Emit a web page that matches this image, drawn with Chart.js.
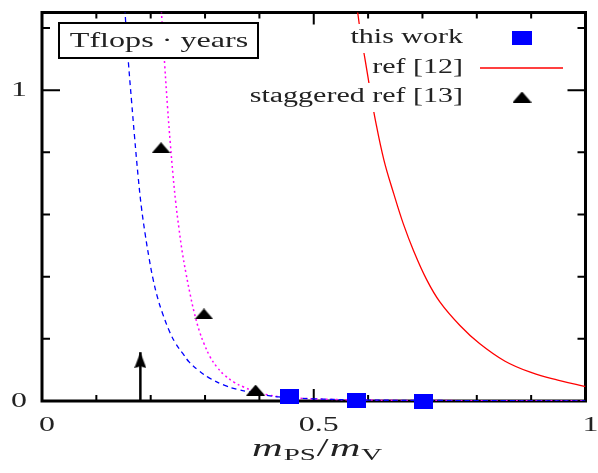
<!DOCTYPE html>
<html>
<head>
<meta charset="utf-8">
<script src="https://cdn.jsdelivr.net/npm/chart.js@4.4.1/dist/chart.umd.min.js"></script>
<style>
  html, body { margin: 0; padding: 0; background: #fff; }
  #wrap { width: 598px; height: 473px; }
  #precarga { font-family: "Liberation Serif"; position: absolute; left: -999px; }
</style>
</head>
<body>
<span id="precarga">Tflops <i>m</i></span>
<div id="wrap"><canvas id="grafica" width="598" height="473"></canvas></div>
<script>
// datos
const estaObraX = [0.455, 0.579, 0.702];
const estaObraY = [0.013, 0.002, 0.0];

const escalonadoX = [0.219, 0.298, 0.393];
const escalonadoY = [0.815, 0.28, 0.035];

const ref12X = [0.579, 0.586, 0.595, 0.604, 0.613, 0.629, 0.647, 0.665, 0.684, 0.707, 0.732, 0.769, 0.805, 0.852, 0.901, 0.949, 0.996, 1.0];
const ref12Y = [1.275, 1.185, 1.093, 0.997, 0.907, 0.776, 0.668, 0.569, 0.482, 0.393, 0.319, 0.243, 0.185, 0.128, 0.091, 0.067, 0.048, 0.047];

const azulX = [0.150, 0.154, 0.159, 0.165, 0.170, 0.177, 0.183, 0.190, 0.197, 0.204, 0.213, 0.222, 0.235, 0.246, 0.259, 0.271, 0.289, 0.309, 0.335, 0.358, 0.382, 0.412, 0.436, 0.5, 0.6, 0.7, 0.8, 1.0];
const azulY = [1.35, 1.217, 1.089, 0.960, 0.856, 0.720, 0.622, 0.535, 0.460, 0.395, 0.330, 0.281, 0.222, 0.185, 0.153, 0.125, 0.097, 0.073, 0.051, 0.038, 0.029, 0.019, 0.013, 0.007, 0.003, 0.002, 0.001, 0.0005];

const magentaX = [0.216, 0.221, 0.226, 0.231, 0.236, 0.241, 0.246, 0.252, 0.258, 0.265, 0.273, 0.280, 0.289, 0.298, 0.309, 0.322, 0.336, 0.353, 0.371, 0.394, 0.418, 0.448, 0.5, 0.6, 0.8, 1.0];
const magentaY = [1.35, 1.217, 1.075, 0.945, 0.830, 0.728, 0.640, 0.555, 0.480, 0.410, 0.340, 0.285, 0.228, 0.185, 0.143, 0.109, 0.083, 0.061, 0.045, 0.029, 0.019, 0.012, 0.007, 0.003, 0.001, 0.0005];

const flechaX = [0.181, 0.181];
const flechaY = [0, 0.157];

const xTicks = [0.1, 0.2, 0.3, 0.4, 0.5, 0.6, 0.7, 0.8, 0.9];
const yTicks = [0.2, 0.4, 0.6, 0.8, 1.0, 1.2];
const xEtiquetas = [0, 0.5, 1];
const yEtiquetas = [0, 1];
const leyenda = ['this work', 'ref [12]', 'staggered ref [13]'];

const FUENTE = '"Liberation Serif", "DejaVu Serif", serif';

function puntos(xs, ys) {
    return xs.map((x, i) => ({ x: x, y: ys[i] }));
}

function crearCanvas(w, h, dibujar) {
    const c = document.createElement('canvas');
    c.width = w; c.height = h;
    dibujar(c.getContext('2d'));
    return c;
}

const cuadro = crearCanvas(19, 15, g => { g.fillStyle = '#0000ff'; g.fillRect(0, 0, 19, 15); });
const triangulo = crearCanvas(19, 11, g => {
    g.fillStyle = '#000';
    g.beginPath(); g.moveTo(9.5, 0); g.lineTo(19, 11); g.lineTo(0, 11); g.closePath(); g.fill();
});
// punta de flecha en la mitad inferior para que el centro quede en la punta
const punta = crearCanvas(12, 32, g => {
    g.fillStyle = '#000';
    g.beginPath(); g.moveTo(6, 16); g.lineTo(12, 32); g.lineTo(6, 30); g.lineTo(0, 32); g.closePath(); g.fill();
});

function texto(ctx, str, x, y, font, align, base, sx) {
    sx = sx || 1.45;
    ctx.save();
    ctx.font = font;
    ctx.textBaseline = base || 'middle';
    ctx.textAlign = 'left';
    const w = ctx.measureText(str).width * sx;
    const left = align === 'right' ? x - w : align === 'center' ? x - w / 2 : x;
    ctx.translate(left, y);
    ctx.scale(sx, 1);
    ctx.fillText(str, 0, 0);
    ctx.restore();
    return w;
}

const marco = {
    id: 'marco',
    beforeDatasetsDraw(chart) {
        const { ctx, chartArea: a, scales: { x, y } } = chart;
        ctx.save();
        ctx.strokeStyle = '#000';
        ctx.lineWidth = 2;
        xTicks.forEach(v => {
            const px = x.getPixelForValue(v);
            const len = v === 0.5 ? 12 : 6;
            ctx.beginPath();
            ctx.moveTo(px, a.bottom); ctx.lineTo(px, a.bottom - len);
            ctx.moveTo(px, a.top); ctx.lineTo(px, a.top + len);
            ctx.stroke();
        });
        yTicks.forEach(v => {
            const py = y.getPixelForValue(v);
            const len = v === 1.0 ? 18 : 8;
            ctx.beginPath();
            ctx.moveTo(a.left, py); ctx.lineTo(a.left + len, py);
            ctx.moveTo(a.right, py); ctx.lineTo(a.right - len, py);
            ctx.stroke();
        });
        ctx.lineWidth = 3;
        ctx.strokeRect(a.left, a.top, a.right - a.left, a.bottom - a.top);
        ctx.restore();
    },
    afterDraw(chart) {
        const { ctx, scales: { x, y } } = chart;
        ctx.save();
        ctx.fillStyle = '#222';
        // etiquetas de los ejes
        xEtiquetas.forEach(v => {
            texto(ctx, String(v), x.getPixelForValue(v) + 5, 425, '22px ' + FUENTE, 'center');
        });
        yEtiquetas.forEach(v => {
            texto(ctx, String(v), 19, y.getPixelForValue(v), '22px ' + FUENTE, 'center');
        });

        // titulo del eje x
        let cx = 252;
        const base = 456;
        const st = 1.7;
        cx += texto(ctx, 'm', cx, base, 'italic 25px ' + FUENTE, 'left', 'alphabetic', st) + 1;
        cx += texto(ctx, 'PS', cx, base + 4, '17px ' + FUENTE, 'left', 'alphabetic', st) + 1;
        cx += texto(ctx, '/', cx, base, '25px ' + FUENTE, 'left', 'alphabetic', st) + 1;
        cx += texto(ctx, 'm', cx, base, 'italic 25px ' + FUENTE, 'left', 'alphabetic', st) + 1;
        texto(ctx, 'V', cx, base + 4, '17px ' + FUENTE, 'left', 'alphabetic', st);

        // leyenda
        const ys = [38, 68, 97];
        const fuenteLey = '20px ' + FUENTE;
        leyenda.forEach((t, i) => {
            ctx.font = fuenteLey;
            const w = ctx.measureText(t).width * 1.5;
            ctx.fillStyle = '#fff';
            ctx.fillRect(463 - w - 2, ys[i] - 14, w + 4, 29);
            ctx.fillStyle = '#222';
            texto(ctx, t, 463, ys[i], fuenteLey, 'right', 'middle', 1.5);
        });
        ctx.drawImage(cuadro, 522 - 10, ys[0] - 7, 20, 14);
        ctx.strokeStyle = '#ff0000';
        ctx.lineWidth = 1.3;
        ctx.beginPath(); ctx.moveTo(480, ys[1]); ctx.lineTo(563, ys[1]); ctx.stroke();
        ctx.drawImage(triangulo, 522 - 9.5, ys[2] - 5.5);

        // caja Tflops
        ctx.fillStyle = '#fff';
        ctx.fillRect(59, 23, 199, 35);
        ctx.strokeStyle = '#000';
        ctx.lineWidth = 2;
        ctx.strokeRect(59, 23, 199, 35);
        ctx.fillStyle = '#222';
        texto(ctx, 'Tflops \u00b7 years', 159, 41, '21px ' + FUENTE, 'center', 'middle', 1.53);
        ctx.restore();
    }
};

function dibujar() {
    const ctx = document.getElementById('grafica').getContext('2d');
    window.myChart = new Chart(ctx, {
        type: 'scatter',
        data: {
            datasets: [
                {
                    label: leyenda[0],
                    data: puntos(estaObraX, estaObraY),
                    pointStyle: cuadro,
                    pointRadius: 10,
                    clip: false
                },
                {
                    label: leyenda[2],
                    data: puntos(escalonadoX, escalonadoY),
                    pointStyle: triangulo,
                    pointRadius: 10,
                    clip: false
                },
                {
                    label: 'flecha',
                    data: puntos(flechaX, flechaY),
                    showLine: true,
                    borderColor: '#000',
                    borderWidth: 2.5,
                    pointStyle: punta,
                    pointRadius: [0, 10],
                    clip: false
                },
                {
                    label: leyenda[1],
                    data: puntos(ref12X, ref12Y),
                    showLine: true,
                    borderColor: '#ff0000',
                    borderWidth: 1.3,
                    pointRadius: 0,
                    tension: 0.4
                },
                {
                    label: 'azul',
                    data: puntos(azulX, azulY),
                    showLine: true,
                    borderColor: '#0000ff',
                    borderWidth: 1.3,
                    borderDash: [5, 4],
                    pointRadius: 0,
                    tension: 0.4
                },
                {
                    label: 'magenta',
                    data: puntos(magentaX, magentaY),
                    showLine: true,
                    borderColor: '#ff00ff',
                    borderWidth: 1.5,
                    borderDash: [2, 3],
                    pointRadius: 0,
                    tension: 0.4
                }
            ]
        },
        options: {
            responsive: false,
            animation: false,
            events: [],
            layout: { padding: { top: 10, right: 3, left: 0, bottom: 0 } },
            plugins: { legend: { display: false }, tooltip: { enabled: false } },
            scales: {
                x: {
                    type: 'linear', min: 0, max: 1,
                    grid: { display: false, drawTicks: false },
                    border: { display: false },
                    ticks: { display: false },
                    afterFit: s => { s.height = 72; }
                },
                y: {
                    type: 'linear', min: 0, max: 1.25,
                    grid: { display: false, drawTicks: false },
                    border: { display: false },
                    ticks: { display: false },
                    afterFit: s => { s.width = 42; }
                }
            }
        },
        plugins: [marco]
    });
}

Promise.all([
    document.fonts.load('20px "Liberation Serif"'),
    document.fonts.load('italic 25px "Liberation Serif"')
]).then(dibujar, dibujar);
</script>
</body>
</html>
